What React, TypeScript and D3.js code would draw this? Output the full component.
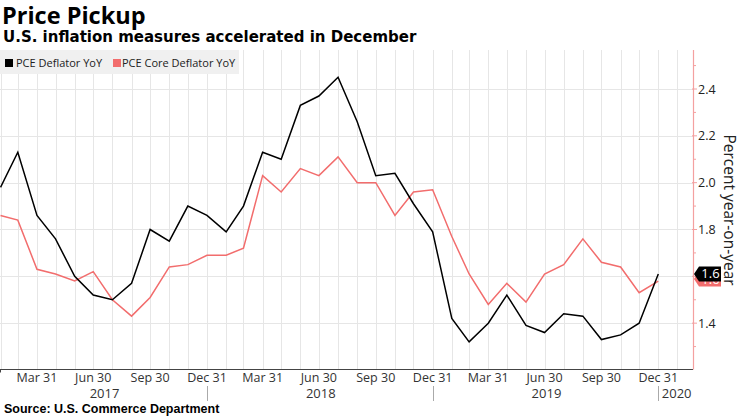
import React from "react";
import * as d3 from "d3";

const months = [
  "2017-01","2017-02","2017-03","2017-04","2017-05","2017-06","2017-07","2017-08","2017-09","2017-10","2017-11","2017-12",
  "2018-01","2018-02","2018-03","2018-04","2018-05","2018-06","2018-07","2018-08","2018-09","2018-10","2018-11","2018-12",
  "2019-01","2019-02","2019-03","2019-04","2019-05","2019-06","2019-07","2019-08","2019-09","2019-10","2019-11","2019-12",
];
const pceDeflator = [
  1.98, 2.13, 1.86, 1.76, 1.6, 1.52, 1.5, 1.57, 1.8, 1.75, 1.9, 1.86,
  1.79, 1.9, 2.13, 2.1, 2.33, 2.37, 2.45, 2.26, 2.03, 2.04, 1.91, 1.79,
  1.42, 1.32, 1.4, 1.52, 1.39, 1.36, 1.44, 1.43, 1.33, 1.35, 1.4, 1.61,
];
const pceCore = [
  1.86, 1.84, 1.63, 1.61, 1.58, 1.62, 1.5, 1.43, 1.51, 1.64, 1.65, 1.69,
  1.69, 1.72, 2.03, 1.96, 2.06, 2.03, 2.11, 2.0, 2.0, 1.86, 1.96, 1.97,
  1.77, 1.61, 1.48, 1.57, 1.49, 1.61, 1.65, 1.76, 1.66, 1.64, 1.53, 1.58,
];
const yTicks = [1.4, 1.6, 1.8, 2.0, 2.2, 2.4];
const yMinorTicks = [1.3, 1.5, 1.7, 1.9, 2.1, 2.3, 2.5];
const seriesNames = ["PCE Deflator YoY", "PCE Core Deflator YoY"];
const monthNames = ["Jan","Feb","Mar","Apr","May","Jun","Jul","Aug","Sep","Oct","Nov","Dec"];

const FONT = "'Open Sans', sans-serif";
const BOLD = "'DejaVu Sans', sans-serif";
const RED = "#f26d6d";

function monthEnd(s: string) {
  const [y, m] = s.split("-").map(Number);
  return new Date(y, m, 0);
}

export default function App() {
  const W = 740, H = 416;
  const plotLeft = 0, plotRight = 693, plotTop = 50, plotBottom = 369.5;
  const dates = months.map(monthEnd);
  const x = d3.scaleTime().domain([dates[0], dates[dates.length - 1]]).range([0.5, 658.3]);
  const y = d3.scaleLinear().domain([1.2, 2.4]).range([370, 89]);

  const xMax = x.invert(plotRight);
  const gridMonths = d3.timeMonth.range(new Date(2017, 0, 1), xMax).map((d) => new Date(d.getFullYear(), d.getMonth() + 1, 0)).filter((d) => x(d) >= plotLeft && x(d) < plotRight);
  const quarterEnds = gridMonths.filter((d) => d.getMonth() % 3 === 2);
  const yearEnds = gridMonths.filter((d) => d.getMonth() === 11);
  const years = d3.range(2017, 2021);

  const line = d3.line<number>().x((_, i) => x(dates[i])).y((v) => y(v));

  const last = dates.length - 1;
  const tag = (v: number, color: string, dy: number) => {
    const cy = y(v) + dy;
    const h = 15;
    const x0 = plotRight + 1, x1 = x0 + 5, x2 = 721;
    const pts = [[x0, cy], [x1, cy - h / 2], [x2, cy - h / 2], [x2, cy + h / 2], [x1, cy + h / 2]];
    return (
      <g>
        <polygon points={pts.map((p) => p.join(",")).join(" ")} fill={color} />
        <text x={(x1 + x2) / 2 + 0.5} y={cy + 4.5} fontSize={13} fill="#fff" textAnchor="middle" fontFamily={FONT}>
          {d3.format(".1f")(v)}
        </text>
      </g>
    );
  };

  return (
    <svg width={W} height={H} style={{ position: "absolute", left: 0, top: 0, background: "#fff" }}>
      <defs>
        <clipPath id="plot">
          <rect x={plotLeft} y={plotTop} width={plotRight - plotLeft} height={plotBottom - plotTop} />
        </clipPath>
      </defs>
      <text x={2} y={24} fontSize={23.5} fontWeight="bold" fontFamily={FONT} fill="#000">Price Pickup</text>
      <text x={3} y={42} fontSize={15} fontWeight="bold" fontFamily={BOLD} fill="#000">U.S. inflation measures accelerated in December</text>

      {/* grid */}
      {gridMonths.map((d, i) => (
        <line key={"vg" + i} x1={Math.round(x(d)) + 0.5} x2={Math.round(x(d)) + 0.5} y1={plotTop} y2={plotBottom} stroke="#e6e6e6" strokeWidth={1} />
      ))}
      {yTicks.map((t) => (
        <line key={"hg" + t} x1={plotLeft} x2={plotRight} y1={Math.round(y(t)) + 0.5} y2={Math.round(y(t)) + 0.5} stroke="#e6e6e6" strokeWidth={1} />
      ))}

      {/* legend */}
      <rect x={0} y={50} width={239} height={24} fill="#f0f0f0" />
      <rect x={5} y={59} width={8} height={8} fill="#000" />
      <text x={16} y={67} fontSize={11} fontFamily={FONT} fill="#222">{seriesNames[0]}</text>
      <rect x={113} y={59} width={8} height={8} fill={RED} />
      <text x={122} y={67} fontSize={11} fontFamily={FONT} fill="#222">{seriesNames[1]}</text>

      {/* lines */}
      <g clipPath="url(#plot)">
        <path d={line(pceCore) || ""} fill="none" stroke={RED} strokeWidth={1.5} />
        <path d={line(pceDeflator) || ""} fill="none" stroke="#000" strokeWidth={1.5} />
      </g>

      {/* bottom axis */}
      <line x1={plotLeft} x2={plotRight} y1={plotBottom} y2={plotBottom} stroke="#444" strokeWidth={1} />
      <line x1={0.5} x2={0.5} y1={plotBottom} y2={plotBottom + 3} stroke="#444" />
      {quarterEnds.map((d, i) => (
        <text key={"xt" + i} x={x(d)} y={382} fontSize={12.5} fontFamily={FONT} fill="#333" textAnchor="middle">
          {monthNames[d.getMonth()]} {d.getDate()}
        </text>
      ))}
      {yearEnds.map((d, i) => (
        <line key={"ys" + i} x1={Math.round(x(d)) + 0.5} x2={Math.round(x(d)) + 0.5} y1={386} y2={401} stroke="#aaa" />
      ))}
      {years.map((yr) => {
        const a = Math.max(plotLeft, x(new Date(yr - 1, 11, 31)));
        const b = Math.min(plotRight, x(new Date(yr, 11, 31)));
        return (
          <text key={"yr" + yr} x={(a + b) / 2 + 1} y={398} fontSize={13} fontFamily={FONT} fill="#333" textAnchor="middle">
            {yr}
          </text>
        );
      })}

      {/* right axis */}
      <line x1={plotRight + 0.5} x2={plotRight + 0.5} y1={plotTop} y2={plotBottom} stroke="#f4a0a0" strokeWidth={1.2} />
      {yMinorTicks.filter((t) => y(t) > plotTop).map((t) => (
        <line key={"mt" + t} x1={plotRight} x2={plotRight + 3} y1={y(t)} y2={y(t)} stroke="#f4a0a0" />
      ))}
      {yTicks.map((t) => (
        <g key={"yt" + t}>
          <line x1={plotRight - 1} x2={plotRight + 4} y1={y(t)} y2={y(t)} stroke="#f4a0a0" />
          <text x={698} y={y(t) + 4.5} fontSize={12.5} fontFamily={FONT} fill="#222">{d3.format(".1f")(t)}</text>
        </g>
      ))}
      <text transform={`translate(724,210) rotate(90)`} fontSize={15.5} fontFamily={FONT} fill="#222" textAnchor="middle">
        Percent year-on-year
      </text>

      {tag(pceCore[last], RED, -2)}
      {tag(pceDeflator[last], "#000", 0)}

      <text x={4} y={413} fontSize={12.5} fontWeight="bold" fontFamily="'Liberation Sans', sans-serif" fill="#000">Source: U.S. Commerce Department</text>
    </svg>
  );
}
